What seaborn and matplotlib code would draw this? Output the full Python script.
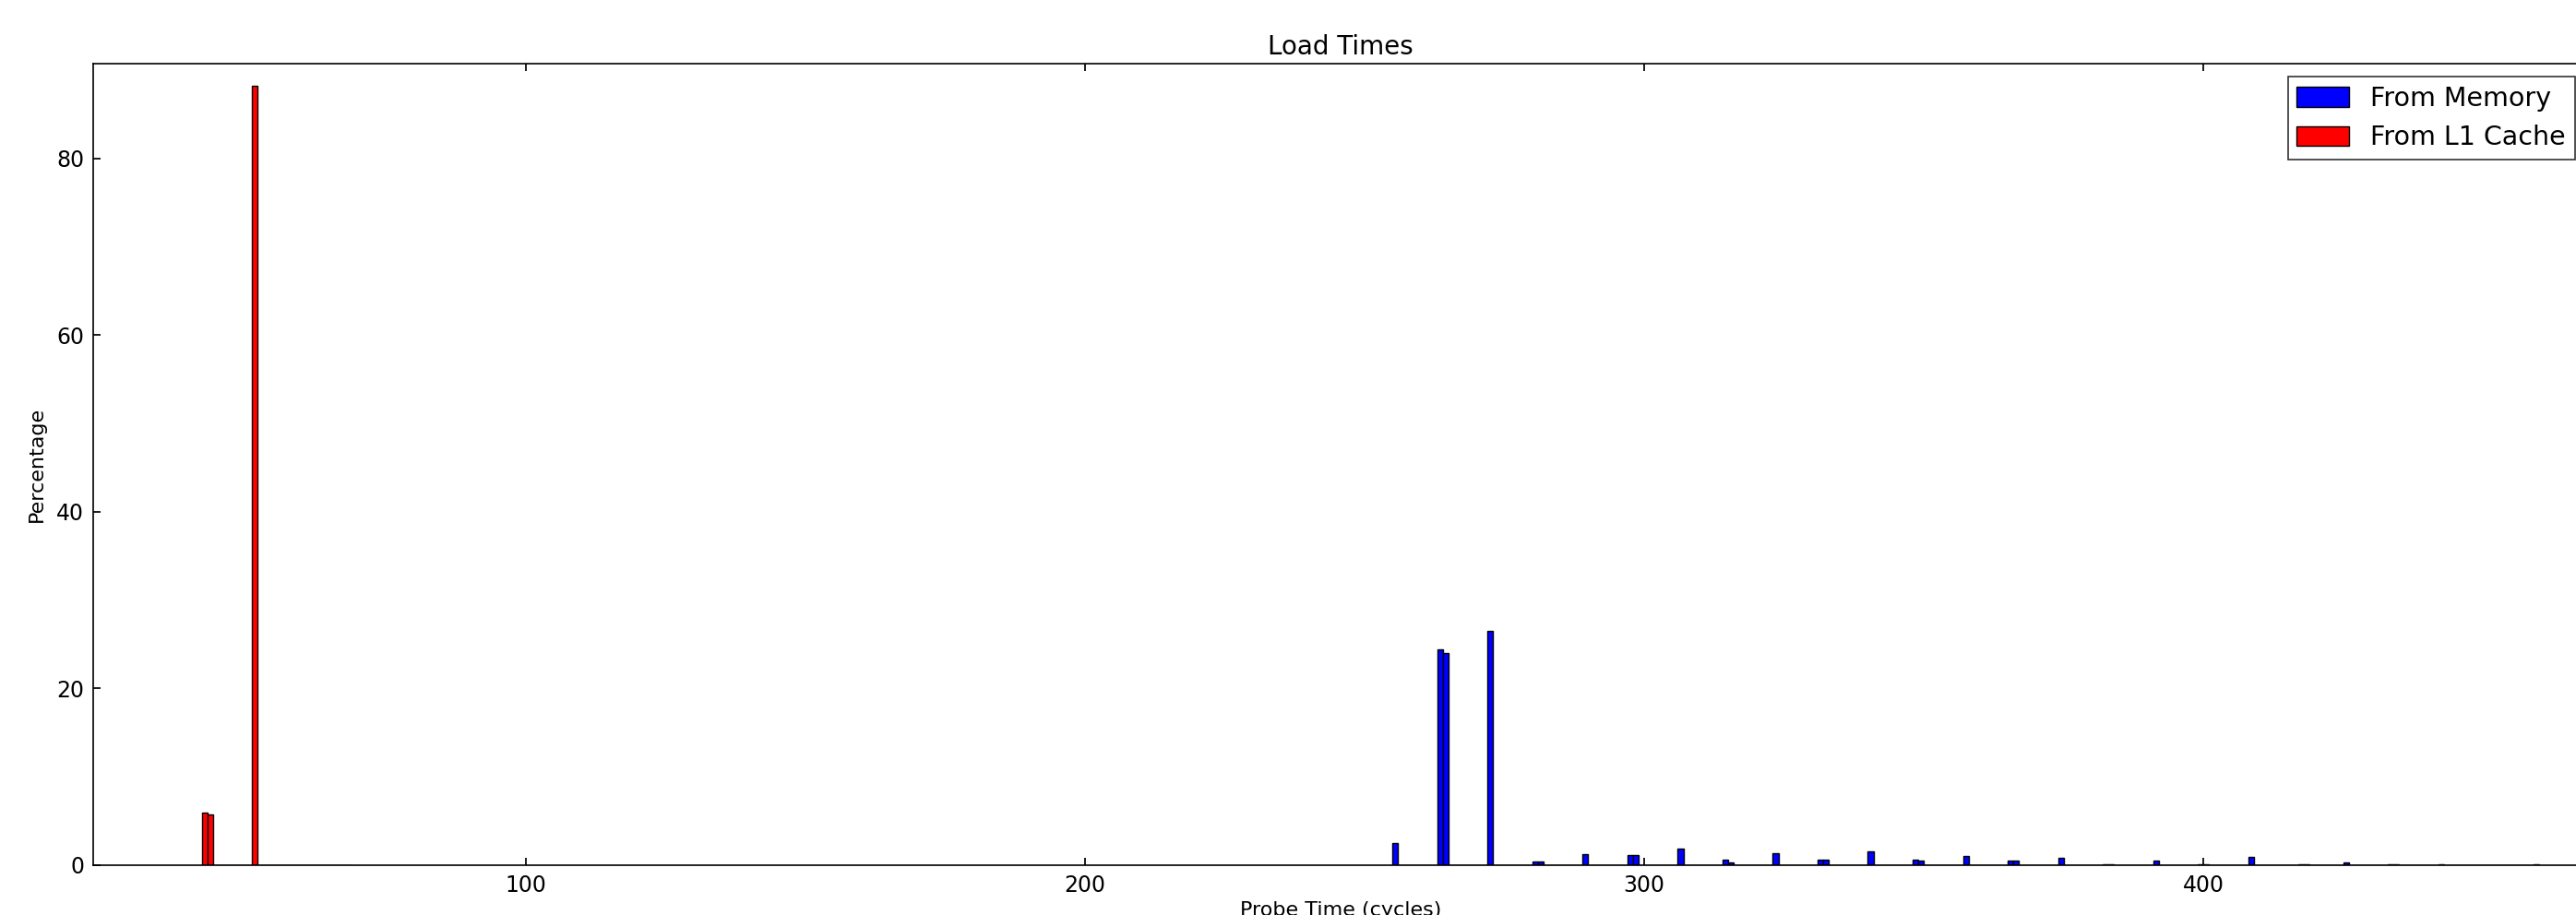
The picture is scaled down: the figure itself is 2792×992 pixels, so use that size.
import numpy as np
import pandas as pd
import matplotlib
matplotlib.use("Agg")
import matplotlib.pyplot as plt
from matplotlib.patches import Patch
import seaborn as sns

# --- data (probe time in cycles -> percentage of loads) ---
l1_cycles = [42, 43, 51, 59, 68]
l1_pct = [5.95, 5.78, 88.2, 0.05, 0.05]

mem_cycles = [255, 263, 264, 272, 280, 281, 289, 297, 298, 306, 314, 315,
              323, 331, 332, 340, 348, 349, 357, 365, 366, 374, 382, 383,
              391, 399, 400, 408, 417, 418, 425, 433, 434, 442, 450, 451, 459]
mem_pct = [2.47, 24.4, 24.0, 26.5, 0.39, 0.39, 1.3, 1.15, 1.15, 1.92, 0.58, 0.36,
           1.39, 0.6, 0.6, 1.52, 0.6, 0.55, 1.04, 0.48, 0.48, 0.83, 0.15, 0.15,
           0.47, 0.1, 0.1, 0.94, 0.15, 0.15, 0.35, 0.15, 0.15, 0.15, 0.03, 0.03, 0.15]

series_names = ["From Memory", "From L1 Cache"]
series_colors = ["blue", "red"]

mem_df = pd.DataFrame({"cycles": mem_cycles, "pct": mem_pct})
l1_df = pd.DataFrame({"cycles": l1_cycles, "pct": l1_pct})

# --- style: old matplotlib look, ticks pointing in ---
sns.set_theme(style="ticks", rc={
    "xtick.direction": "in", "ytick.direction": "in",
    "xtick.top": True, "ytick.right": True,
    "xtick.major.size": 6, "ytick.major.size": 6,
    "xtick.major.pad": 7, "ytick.major.pad": 7,
    "axes.edgecolor": "black", "axes.linewidth": 1.2,
    "text.color": "black", "axes.labelcolor": "black",
    "xtick.color": "black", "ytick.color": "black",
})
plt.rcParams["font.family"] = ["DejaVu Sans"]

fig = plt.figure(figsize=(27.92, 9.92), dpi=100)
# the reference is cropped: the axes run past the right edge of the figure
ax = fig.add_axes([0.03617, 0.05444, 0.9685, 0.8760])

hist_kw = dict(x="cycles", weights="pct", binwidth=1, alpha=1,
               edgecolor="black", linewidth=1.0, ax=ax)
sns.histplot(data=mem_df, color=series_colors[0],
             binrange=(min(mem_cycles), max(mem_cycles) + 1), **hist_kw)
sns.histplot(data=l1_df, color=series_colors[1],
             binrange=(min(l1_cycles), max(l1_cycles) + 1), **hist_kw)

ax.set_xlim(22.6, 468.8)
ax.set_ylim(0, 90.75)
ax.set_xticks([100, 200, 300, 400])
ax.set_yticks([0, 20, 40, 60, 80])
ax.tick_params(labelsize=17)

ax.set_title("Load Times", fontsize=20, pad=7)
ax.set_xlabel("Probe Time (cycles)", fontsize=16, labelpad=4)
ax.set_ylabel("Percentage", fontsize=16, labelpad=8)

handles = [Patch(facecolor=c, edgecolor="black", linewidth=1.0) for c in series_colors]
leg = ax.legend(handles, series_names, loc="upper right", fontsize=20.5,
                frameon=True, fancybox=False, shadow=False,
                borderaxespad=0.5, handlelength=2.0, handleheight=0.8,
                labelspacing=0.5, borderpad=0.35, handletextpad=0.8)
leg.get_frame().set_edgecolor("black")
leg.get_frame().set_linewidth(1.2)

fig.savefig("out.png", dpi=100)
